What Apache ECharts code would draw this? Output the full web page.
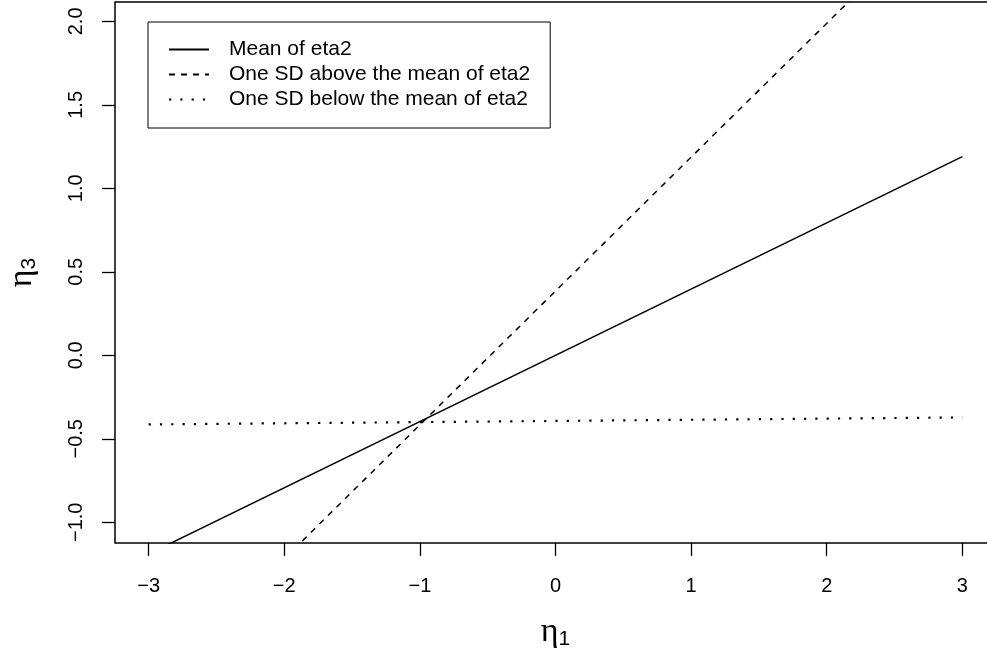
<!DOCTYPE html>
<html>
<head>
<meta charset="utf-8">
<script src="https://cdn.jsdelivr.net/npm/echarts@6/dist/echarts.min.js"></script>
<style>
  html, body { margin: 0; padding: 0; background: #fff; }
  #chart { width: 987px; height: 659px; }
</style>
</head>
<body>
<div id="chart"></div>
<script>
// endpoints of each simple-slope line (eta1 from -3 to 3)
const eta1 = [-3, 3];
const meanEta2 = [-1.19, 1.19];
const sdAbove = [-2.02, 2.79];
const sdBelow = [-0.414, -0.372];

const seriesNames = ['Mean of eta2', 'One SD above the mean of eta2', 'One SD below the mean of eta2'];
const xTicks = [-3, -2, -1, 0, 1, 2, 3];
const yTicks = [-1, -0.5, 0, 0.5, 1, 1.5, 2];

const fmt = (v, d) => (v < 0 ? '\u2212' : '') + Math.abs(v).toFixed(d);
const toPairs = (ys) => eta1.map((x, i) => [x, ys[i]]);

const chart = echarts.init(document.getElementById('chart'));

const font = 'Liberation Sans, Arial, sans-serif';
const greek = {
  g: { fontFamily: 'Liberation Serif, DejaVu Serif, serif', fontSize: 34, color: '#000' },
  s: { fontFamily: font, fontSize: 21, color: '#000', padding: [14, 0, 0, 0] }
};

const option = {
  backgroundColor: '#fff',
  animation: false,
  grid: {
    left: 115,
    top: 2,
    width: 881,
    height: 541,
    outerBoundsMode: 'none',
    show: true,
    borderColor: '#000',
    borderWidth: 1.5,
    backgroundColor: 'transparent'
  },
  legend: {
    orient: 'vertical',
    left: 148,
    top: 22,
    padding: [17, 20, 18, 20],
    borderColor: '#000',
    borderWidth: 1,
    itemWidth: 40,
    itemHeight: 14,
    itemGap: 4,
    data: seriesNames,
    itemStyle: { opacity: 0 },
    textStyle: {
      fontFamily: font,
      fontSize: 21,
      lineHeight: 21,
      color: '#000',
      padding: [0, 0, 0, 15]
    }
  },
  xAxis: {
    type: 'value',
    min: -3.248,
    max: 3.248,
    axisLine: { show: false, onZero: false },
    splitLine: { show: false },
    axisTick: {
      show: true,
      length: 13,
      customValues: xTicks,
      lineStyle: { color: '#000', width: 1.3 }
    },
    axisLabel: {
      customValues: xTicks,
      formatter: (v) => fmt(v, 0),
      margin: 33,
      fontFamily: font,
      fontSize: 20,
      color: '#000'
    },
    name: '{g|\u03b7}{s|1}',
    nameLocation: 'middle',
    nameGap: 72,
    nameTextStyle: { rich: greek }
  },
  yAxis: {
    type: 'value',
    min: -1.124,
    max: 2.116,
    axisLine: { show: false, onZero: false },
    splitLine: { show: false },
    axisTick: {
      show: true,
      length: 13,
      customValues: yTicks,
      lineStyle: { color: '#000', width: 1.3 }
    },
    axisLabel: {
      customValues: yTicks,
      formatter: (v) => fmt(v, 1),
      rotate: 90,
      margin: 29,
      fontFamily: font,
      fontSize: 20,
      color: '#000'
    },
    name: '{g|\u03b7}{s|3}',
    nameLocation: 'middle',
    nameGap: 75,
    nameRotate: 90,
    nameTextStyle: { rich: greek }
  },
  series: [
    {
      name: seriesNames[0],
      type: 'line',
      data: toPairs(meanEta2),
      symbol: 'none',
      clip: true,
      lineStyle: { color: '#000', width: 1.5, type: 'solid' },
      itemStyle: { color: '#000' }
    },
    {
      name: seriesNames[1],
      type: 'line',
      data: toPairs(sdAbove),
      symbol: 'none',
      clip: true,
      lineStyle: { color: '#000', width: 1.5, type: [6, 6] },
      itemStyle: { color: '#000' }
    },
    {
      name: seriesNames[2],
      type: 'line',
      data: toPairs(sdBelow),
      symbol: 'none',
      clip: true,
      lineStyle: { color: '#000', width: 2.2, type: [2.2, 9.1] },
      itemStyle: { color: '#000' }
    }
  ]
};

chart.setOption(option);
</script>
</body>
</html>
